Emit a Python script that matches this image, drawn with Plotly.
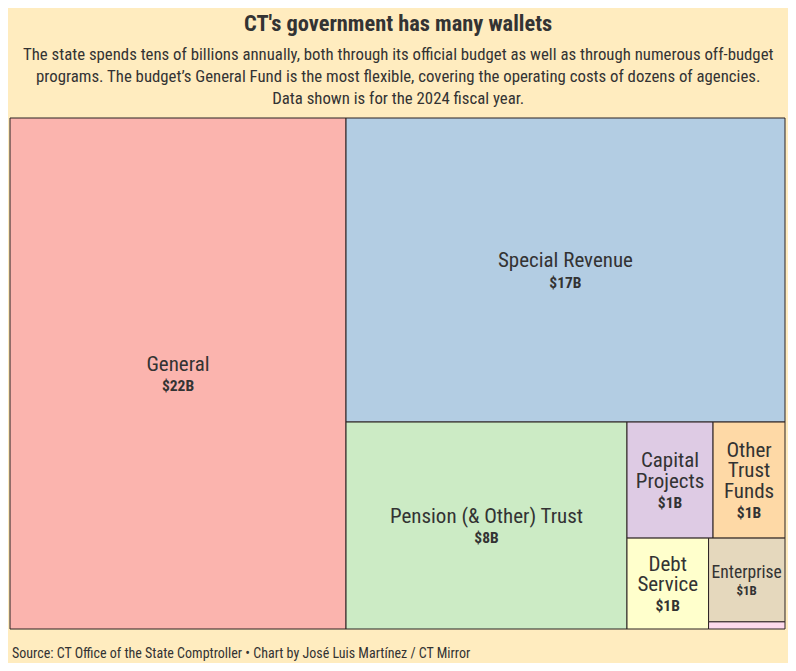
import plotly.graph_objects as go

funds = ["General", "Special Revenue", "Pension (& Other) Trust", "Capital Projects",
         "Other Trust Funds", "Debt Service", "Enterprise", "Internal Service"]
tile_names = ["General", "Special Revenue", "Pension (& Other) Trust", "Capital<br>Projects",
              "Other<br>Trust<br>Funds", "Debt<br>Service", "Enterprise", ""]
spending_b = [22.0, 17.1, 7.45, 1.28, 1.07, 0.95, 0.82, 0.07]
value_labels = ["$22B", "$17B", "$8B", "$1B", "$1B", "$1B", "$1B", ""]
colors = ["#fbb4ae", "#b3cde3", "#ccebc5", "#decbe4", "#fed9a6", "#ffffcc", "#e5d8bd", "#fddaec"]

FONT = "Roboto Condensed, Liberation Sans Narrow, Roboto, sans-serif"
BG = "#ffecbf"

texts = []
for n, v in zip(tile_names, value_labels):
    if n:
        name = "<br>".join(f"<span style='font-size:21px'>{p}</span>" for p in n.split("<br>"))
        texts.append(f"{name}<br><span style='font-size:15.5px'><b>{v}</b></span>")
    else:
        texts.append("")

fig = go.Figure(go.Treemap(
    labels=funds,
    parents=[""] * len(funds),
    values=spending_b,
    text=texts,
    texttemplate="%{text}",
    textposition="middle center",
    textfont=dict(family=FONT, size=15.5, color="#333333"),
    marker=dict(colors=colors, line=dict(color="#2b2222", width=1),
                pad=dict(t=0, l=0, r=0, b=0)),
    tiling=dict(packing="squarify", pad=0),
    pathbar=dict(visible=False),
    sort=True,
    hoverinfo="label+value",
))

fig.update_layout(
    width=780, height=655,
    margin=dict(l=2, r=3, t=110, b=34),
    paper_bgcolor=BG, plot_bgcolor=BG,
    font=dict(family=FONT, color="#333333"),
    showlegend=False,
    annotations=[
        dict(text="<b>CT's government has many wallets</b>", x=0.5, y=1, xref="paper", yref="paper",
             yshift=95, xanchor="center", yanchor="middle", showarrow=False,
             font=dict(family=FONT, size=22.4, color="#333333")),
        dict(text="The state spends tens of billions annually, both through its official budget as well as through numerous off-budget<br>"
                  "programs. The budget’s General Fund is the most flexible, covering the operating costs of dozens of agencies.<br>"
                  "Data shown is for the 2024 fiscal year.",
             x=0.5, y=1, xref="paper", yref="paper", yshift=42, xanchor="center", yanchor="middle",
             showarrow=False, align="center",
             font=dict(family=FONT, size=16.8, color="#333333")),
        dict(text="Source: CT Office of the State Comptroller • Chart by José Luis Martínez / CT Mirror",
             x=0, y=0, xref="paper", yref="paper", yshift=-24, xanchor="left", yanchor="middle",
             showarrow=False, font=dict(family=FONT, size=14, color="#333333")),
    ],
)

fig.write_html("out.html")
